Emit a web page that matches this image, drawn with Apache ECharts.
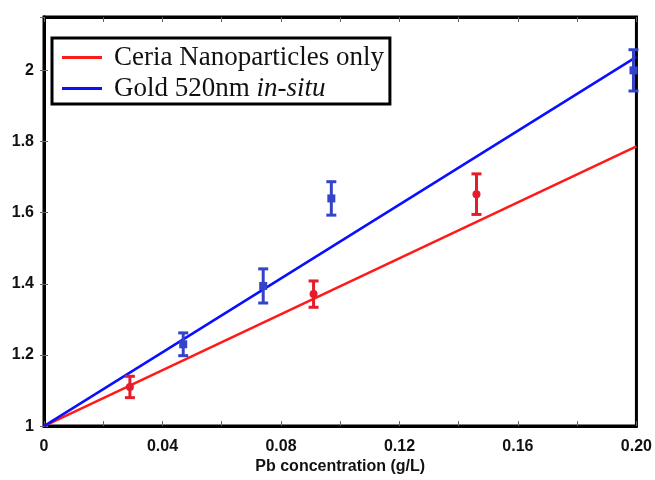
<!DOCTYPE html>
<html>
<head>
<meta charset="utf-8">
<script src="https://cdn.jsdelivr.net/npm/echarts@6/dist/echarts.min.js"></script>
<style>
  html, body { margin: 0; padding: 0; background: #fff; }
  #chart { width: 655px; height: 480px; }
</style>
</head>
<body>
<div id="chart"></div>
<script>
// measured points (Pb concentration, signal, error)
var ceriaX = [0.029, 0.091, 0.146];
var ceriaY = [1.11, 1.371, 1.652];
var ceriaErr = [0.03, 0.037, 0.057];

var goldX = [0.047, 0.074, 0.097, 0.199];
var goldY = [1.23, 1.394, 1.64, 2.0];
var goldErr = [0.032, 0.048, 0.047, 0.058];

// fitted lines, end points
var fitX = [0, 0.2];
var ceriaFit = [1, 1.786];
var goldFit = [1, 2.038];

var legendNames = ["Ceria Nanoparticles only", "Gold 520nm in-situ"];

function zip(xs, ys, es) {
  return xs.map(function (x, i) {
    return es ? [x, ys[i], es[i]] : [x, ys[i]];
  });
}

function errorBars(color, shape) {
  return function (params, api) {
    var x = api.value(0), y = api.value(1), e = api.value(2);
    var c = api.coord([x, y]);
    var t = api.coord([x, y + e]);
    var b = api.coord([x, y - e]);
    var lw = 3, cap = 5;
    var style = { stroke: color, lineWidth: lw };
    var marker;
    if (shape === "square") {
      marker = { type: "rect", shape: { x: c[0] - 4, y: c[1] - 4, width: 8, height: 8 }, style: { fill: color } };
    } else {
      marker = { type: "circle", shape: { cx: c[0], cy: c[1], r: 4 }, style: { fill: color } };
    }
    return {
      type: "group",
      children: [
        { type: "line", shape: { x1: c[0], y1: t[1], x2: c[0], y2: b[1] }, style: style },
        { type: "line", shape: { x1: c[0] - cap, y1: t[1], x2: c[0] + cap, y2: t[1] }, style: style },
        { type: "line", shape: { x1: c[0] - cap, y1: b[1], x2: c[0] + cap, y2: b[1] }, style: style },
        marker
      ]
    };
  };
}

var chart = echarts.init(document.getElementById("chart"));

var xLabel = function (v) {
  var k = Math.round(v * 100);
  if (k % 4 !== 0) return "";
  return k === 0 ? "0" : (k / 100).toFixed(2);
};
var yLabel = function (v) {
  var k = Math.round(v * 10);
  if (k % 10 === 0) return String(k / 10);
  return (k / 10).toFixed(1);
};

var option = {
  backgroundColor: "#fff",
  animation: false,
  grid: {
    left: 44, right: 18, top: 17, bottom: 53,
    show: true,
    borderColor: "#000",
    borderWidth: 3
  },
  legend: {
    data: legendNames,
    left: 52,
    top: 38,
    orient: "vertical",
    icon: "rect",
    itemWidth: 40,
    itemHeight: 3,
    itemGap: 4,
    padding: [6, 6, 2, 10],
    borderColor: "#000",
    borderWidth: 3,
    backgroundColor: "#fff",
    formatter: function (name) {
      if (name === "Gold 520nm in-situ") return "{n|Gold 520nm }{i|in-situ}";
      return "{n|" + name + "}";
    },
    textStyle: {
      padding: [0, 0, 0, 7],
      rich: {
        n: { fontFamily: "Liberation Serif", fontSize: 27, color: "#111", lineHeight: 28 },
        i: { fontFamily: "Liberation Serif", fontSize: 27, fontStyle: "italic", color: "#111", lineHeight: 28 }
      }
    }
  },
  xAxis: [
    {
      type: "value",
      min: 0, max: 0.2, interval: 0.02,
      name: "Pb concentration (g/L)",
      nameLocation: "middle",
      nameGap: 32,
      nameTextStyle: { fontFamily: "Liberation Sans", fontWeight: "bold", fontSize: 16, color: "#111" },
      axisLine: { show: true, lineStyle: { color: "#000", width: 3 } },
      axisTick: { show: true, inside: true, length: 5, lineStyle: { color: "#666", width: 1 } },
      axisLabel: {
        formatter: xLabel, margin: 12,
        fontFamily: "Liberation Sans", fontWeight: "bold", fontSize: 16, color: "#111"
      },
      splitLine: { show: false }
    },
    {
      type: "value", position: "top",
      min: 0, max: 0.2, interval: 0.02,
      axisLine: { show: true, lineStyle: { color: "#000", width: 3 } },
      axisTick: { show: true, inside: true, length: 5, lineStyle: { color: "#666", width: 1 } },
      axisLabel: { show: false },
      splitLine: { show: false }
    }
  ],
  yAxis: [
    {
      type: "value",
      min: 1, max: 2.15, interval: 0.2,
      axisLine: { show: true, lineStyle: { color: "#000", width: 3 } },
      axisTick: { show: true, inside: true, length: 4, lineStyle: { color: "#666", width: 1 } },
      axisLabel: {
        formatter: yLabel, margin: 10, showMaxLabel: false,
        fontFamily: "Liberation Sans", fontWeight: "bold", fontSize: 16, color: "#111"
      },
      splitLine: { show: false }
    },
    {
      type: "value", position: "right",
      min: 1, max: 2.15, interval: 0.2,
      axisLine: { show: true, lineStyle: { color: "#000", width: 3 } },
      axisTick: { show: true, inside: true, length: 4, lineStyle: { color: "#666", width: 1 } },
      axisLabel: { show: false },
      splitLine: { show: false }
    }
  ],
  series: [
    {
      name: legendNames[0],
      type: "line",
      data: zip(fitX, ceriaFit),
      symbol: "none",
      color: "#ff1a1a",
      lineStyle: { color: "#ff1a1a", width: 2.5 },
      z: 3
    },
    {
      name: legendNames[1],
      type: "line",
      data: zip(fitX, goldFit),
      symbol: "none",
      color: "#0a10ff",
      lineStyle: { color: "#0a10ff", width: 2.5 },
      z: 3
    },
    {
      name: "ceria points",
      type: "custom",
      renderItem: errorBars("#e51c2a", "circle"),
      data: zip(ceriaX, ceriaY, ceriaErr),
      encode: { x: 0, y: 1 },
      clip: false,
      z: 4
    },
    {
      name: "gold points",
      type: "custom",
      renderItem: errorBars("#3444c8", "square"),
      data: zip(goldX, goldY, goldErr),
      encode: { x: 0, y: 1 },
      clip: false,
      z: 4
    }
  ]
};

chart.setOption(option);
</script>
</body>
</html>
